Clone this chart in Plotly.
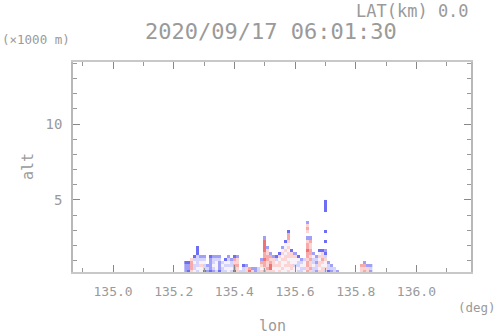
import numpy as np
import plotly.graph_objects as go

# Grid of the cross-section (cell centres)
lon_start = 135.24
lon_step = 0.01
alt_start = 0.3
alt_step = 0.2
n_rows = 24

# Each column is read bottom -> top; '.' = no echo
# A/B/C = strong/medium/light blue, w = near white, x/y/z = light/medium/strong red
columns = [
    "BBBA", "ABBA", "xyyyx", "wCCwCA", "CwCCCCAAA", "wwxwCB", "ACCwCB", "BCB",
    "ABBBBA", "BCwCCB", "CwwwCB", "ABBBCB", "CCwC", "CwCwA", "wwCwCB", "CwCCB",
    "AyyxyA", "xxyxxB", "C", "CCA", "xxB", "zy", "xB", "BB",
    "CC", "xwxyB", "yxyyzyyzzzzB", "xyxxyyxxB", "xzzyxyB", "xwxxxB", "wwxwCA", "xwxxwxA",
    "wxwwxwxwB", "wwxwxxwxwwA", "xwxxwxxwxwxyyA", "wxxwwxxA", "wwCwwxB", "CwCCwA", "CCwCB", "wCwwC",
    "yxyyxyyzyyxB.xyxB", "xyxxyxyyxxyB", "CCwCCwB", "BCCBCB", "xwxxwxwA", "xxwxyxxA",
    "CxwwxCAB..A..A......AAAA", "ACCB",
    "BCB", "CC", "B", "", "", "", "", "",
    "", "", "xxy", "yxyB", "xxB", "BCB",
]
levels = {"A": -3, "B": -2, "C": -1, "w": 0, "x": 1, "y": 2, "z": 3}

x_ticks = [135.0, 135.2, 135.4, 135.6, 135.8, 136.0]
y_ticks = [5, 10]

lons = [round(lon_start + lon_step * i, 3) for i in range(len(columns))]
alts = [round(alt_start + alt_step * j, 2) for j in range(n_rows)]
z = np.full((n_rows, len(columns)), np.nan)
for i, col in enumerate(columns):
    for j, ch in enumerate(col):
        if ch in levels:
            z[j, i] = levels[ch]

colorscale = [
    [0.0, "rgb(110,110,245)"],
    [1 / 6, "rgb(160,160,248)"],
    [2 / 6, "rgb(212,212,252)"],
    [3 / 6, "rgb(247,242,247)"],
    [4 / 6, "rgb(252,212,212)"],
    [5 / 6, "rgb(247,170,170)"],
    [1.0, "rgb(238,115,115)"],
]

fig = go.Figure(go.Heatmap(
    x=lons, y=alts, z=z, zmin=-3, zmax=3, colorscale=colorscale,
    showscale=False, hoverongaps=False,
))

W, H = 498, 336
L, R, T, B = 73, 27, 62, 64
txt = "#9a9a9a"
font = "DejaVu Sans Mono"
fig.update_layout(
    width=W, height=H,
    margin=dict(l=L, r=R, t=T, b=B),
    paper_bgcolor="white", plot_bgcolor="white",
    font=dict(family=font, color=txt, size=13),
    showlegend=False,
    xaxis=dict(
        range=[134.868, 136.18], tickvals=x_ticks, tickformat=".1f",
        ticks="inside", ticklen=7, tickcolor="#888", tickwidth=1,
        minor=dict(ticks="inside", dtick=0.1, tick0=135.0, ticklen=4, tickcolor="#999"),
        showline=True, linecolor="#c8c8c8", linewidth=2, mirror="ticks",
        showgrid=False, zeroline=False, ticklabelstandoff=6,
        tickfont=dict(size=13, color=txt, family=font),
    ),
    yaxis=dict(
        range=[0.26, 14.08], tickvals=y_ticks,
        ticks="inside", ticklen=7, tickcolor="#888", tickwidth=1,
        minor=dict(ticks="inside", dtick=1, tick0=0, ticklen=4, tickcolor="#999"),
        showline=True, linecolor="#b8b8b8", linewidth=1.5, mirror="ticks",
        showgrid=False, zeroline=False, ticklabelstandoff=6,
        tickfont=dict(size=14, color=txt, family=font),
    ),
)

# annotations given in page pixels, converted to paper coordinates
labels = [
    ("2020/09/17 06:01:30", 271, 31, "center", 0, 22),
    ("LAT(km) 0.0", 471, 11, "right", 0, 17),
    ("(×1000 m)", 0, 40, "left", 0, 12.5),
    ("alt", 28, 167, "center", -90, 15),
    ("lon", 272, 326, "center", 0, 15),
    ("(deg)", 498, 307, "right", 0, 12.5),
]
pw, ph = W - L - R, H - T - B
for text, px, py, anchor, ang, size in labels:
    fig.add_annotation(
        text=text, xref="paper", yref="paper",
        x=(px - L) / pw, y=1 - (py - T) / ph,
        xanchor=anchor, yanchor="middle", showarrow=False, textangle=ang,
        font=dict(size=size, color=txt, family=font),
    )

fig.write_html(
    "out.html",
    config={"displayModeBar": False},
    post_script="document.body.style.margin='0';document.body.style.padding='0';",
)
